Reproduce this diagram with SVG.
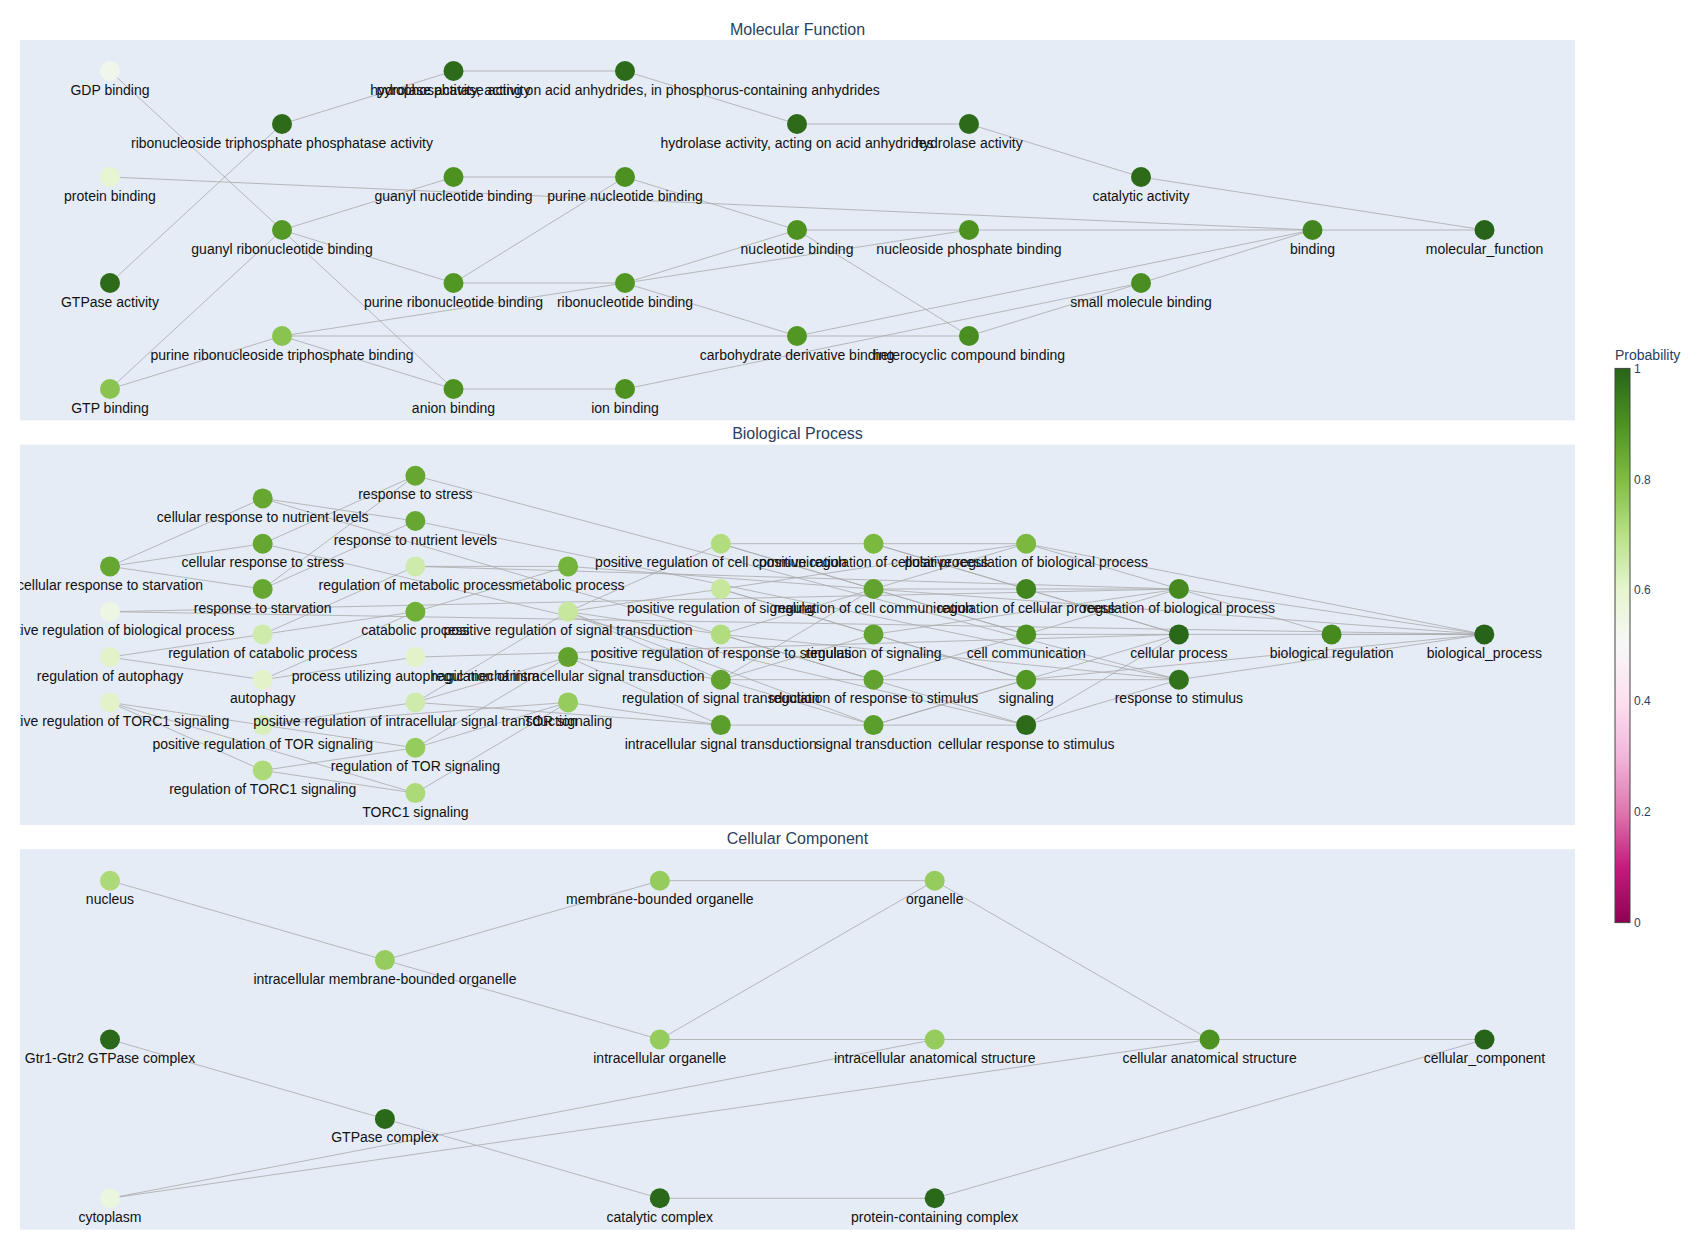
<svg xmlns="http://www.w3.org/2000/svg" width="1704" height="1250" viewBox="0 0 1704 1250">
<style>
.panel{fill:#E5ECF6}
.edges line{stroke:#a9a9a9;stroke-width:0.8;fill:none}
.node text{font-family:"Liberation Sans",Arial,sans-serif;font-size:14px;fill:#111;text-anchor:middle}
.title{font-family:"Liberation Sans",Arial,sans-serif;font-size:16px;fill:#2a3f5f;text-anchor:middle}
.tick{font-family:"Liberation Sans",Arial,sans-serif;font-size:12px;fill:#2a3f5f}
.cbtitle{font-family:"Liberation Sans",Arial,sans-serif;font-size:14px;fill:#2a3f5f}
</style>
<defs>
<clipPath id="clipMF"><rect x="20" y="40" width="1555" height="380.4"/></clipPath>
<clipPath id="clipBP"><rect x="20" y="444.6" width="1555" height="380.4"/></clipPath>
<clipPath id="clipCC"><rect x="20" y="849.2" width="1555" height="380.4"/></clipPath>
<linearGradient id="piyg" x1="0" y1="1" x2="0" y2="0">
<stop offset="0" stop-color="rgb(142,1,82)"/>
<stop offset="0.1" stop-color="rgb(197,27,125)"/>
<stop offset="0.2" stop-color="rgb(222,119,174)"/>
<stop offset="0.3" stop-color="rgb(241,182,218)"/>
<stop offset="0.4" stop-color="rgb(253,224,239)"/>
<stop offset="0.5" stop-color="rgb(247,247,247)"/>
<stop offset="0.6" stop-color="rgb(230,245,208)"/>
<stop offset="0.7" stop-color="rgb(184,225,134)"/>
<stop offset="0.8" stop-color="rgb(127,188,65)"/>
<stop offset="0.9" stop-color="rgb(77,146,33)"/>
<stop offset="1" stop-color="rgb(39,100,25)"/>
</linearGradient>
</defs>
<rect width="1704" height="1250" fill="#ffffff"/>
<rect class="panel" x="20" y="40" width="1555" height="380.4"/>
<rect class="panel" x="20" y="444.6" width="1555" height="380.4"/>
<rect class="panel" x="20" y="849.2" width="1555" height="380.4"/>
<text class="title" x="797.5" y="34.5">Molecular Function</text>
<text class="title" x="797.5" y="439">Biological Process</text>
<text class="title" x="797.5" y="843.5">Cellular Component</text>

<g id="connectors" class="edges">
<g id="mf-edges" clip-path="url(#clipMF)">
<line x1="110" y1="71" x2="282" y2="230"/>
<line x1="282" y1="230" x2="453.5" y2="389"/>
<line x1="453.5" y1="71" x2="625" y2="71"/>
<line x1="282" y1="124" x2="453.5" y2="71"/>
<line x1="625" y1="71" x2="797" y2="124"/>
<line x1="797" y1="124" x2="969" y2="124"/>
<line x1="969" y1="124" x2="1141" y2="177"/>
<line x1="1141" y1="177" x2="1484.5" y2="230"/>
<line x1="110" y1="283" x2="282" y2="124"/>
<line x1="110" y1="177" x2="1312.5" y2="230"/>
<line x1="453.5" y1="177" x2="625" y2="177"/>
<line x1="282" y1="230" x2="453.5" y2="177"/>
<line x1="282" y1="230" x2="453.5" y2="283"/>
<line x1="110" y1="389" x2="282" y2="230"/>
<line x1="110" y1="389" x2="282" y2="336"/>
<line x1="282" y1="336" x2="453.5" y2="389"/>
<line x1="282" y1="336" x2="625" y2="283"/>
<line x1="282" y1="336" x2="797" y2="336"/>
<line x1="797" y1="336" x2="969" y2="336"/>
<line x1="453.5" y1="283" x2="625" y2="283"/>
<line x1="453.5" y1="283" x2="625" y2="177"/>
<line x1="625" y1="177" x2="797" y2="230"/>
<line x1="797" y1="230" x2="969" y2="230"/>
<line x1="969" y1="230" x2="1312.5" y2="230"/>
<line x1="625" y1="283" x2="797" y2="230"/>
<line x1="625" y1="283" x2="969" y2="230"/>
<line x1="625" y1="283" x2="797" y2="336"/>
<line x1="797" y1="230" x2="969" y2="336"/>
<line x1="797" y1="336" x2="1312.5" y2="230"/>
<line x1="625" y1="389" x2="1141" y2="283"/>
<line x1="969" y1="336" x2="1141" y2="283"/>
<line x1="1141" y1="283" x2="1312.5" y2="230"/>
<line x1="1312.5" y1="230" x2="1484.5" y2="230"/>
<line x1="453.5" y1="389" x2="625" y2="389"/>
</g>
<g id="bp-edges" clip-path="url(#clipBP)">
<line x1="110" y1="566.4" x2="262.7" y2="498.4"/>
<line x1="110" y1="566.4" x2="262.7" y2="543.7"/>
<line x1="110" y1="566.4" x2="262.7" y2="589"/>
<line x1="262.7" y1="589" x2="415.4" y2="521"/>
<line x1="262.7" y1="589" x2="415.4" y2="475.7"/>
<line x1="262.7" y1="498.4" x2="415.4" y2="521"/>
<line x1="262.7" y1="498.4" x2="1026.2" y2="725.1"/>
<line x1="262.7" y1="543.7" x2="415.4" y2="475.7"/>
<line x1="262.7" y1="543.7" x2="1026.2" y2="725.1"/>
<line x1="415.4" y1="475.7" x2="1178.9" y2="679.7"/>
<line x1="415.4" y1="521" x2="1178.9" y2="679.7"/>
<line x1="110" y1="611.7" x2="1178.9" y2="589"/>
<line x1="110" y1="611.7" x2="1484.3" y2="634.4"/>
<line x1="110" y1="657.1" x2="262.7" y2="634.4"/>
<line x1="110" y1="657.1" x2="262.7" y2="679.7"/>
<line x1="262.7" y1="634.4" x2="415.4" y2="566.4"/>
<line x1="262.7" y1="634.4" x2="415.4" y2="611.7"/>
<line x1="262.7" y1="679.7" x2="415.4" y2="611.7"/>
<line x1="262.7" y1="679.7" x2="415.4" y2="657.1"/>
<line x1="415.4" y1="566.4" x2="568.1" y2="566.4"/>
<line x1="415.4" y1="566.4" x2="1178.9" y2="589"/>
<line x1="415.4" y1="611.7" x2="568.1" y2="566.4"/>
<line x1="568.1" y1="566.4" x2="1484.3" y2="634.4"/>
<line x1="415.4" y1="657.1" x2="1178.9" y2="634.4"/>
<line x1="110" y1="702.4" x2="262.7" y2="770.4"/>
<line x1="110" y1="702.4" x2="262.7" y2="725.1"/>
<line x1="110" y1="702.4" x2="415.4" y2="793.1"/>
<line x1="262.7" y1="725.1" x2="415.4" y2="747.8"/>
<line x1="262.7" y1="725.1" x2="415.4" y2="702.4"/>
<line x1="262.7" y1="725.1" x2="568.1" y2="702.4"/>
<line x1="262.7" y1="770.4" x2="415.4" y2="747.8"/>
<line x1="262.7" y1="770.4" x2="415.4" y2="793.1"/>
<line x1="415.4" y1="793.1" x2="568.1" y2="702.4"/>
<line x1="415.4" y1="747.8" x2="568.1" y2="657.1"/>
<line x1="415.4" y1="747.8" x2="568.1" y2="702.4"/>
<line x1="415.4" y1="702.4" x2="568.1" y2="657.1"/>
<line x1="415.4" y1="702.4" x2="568.1" y2="611.7"/>
<line x1="415.4" y1="702.4" x2="720.8" y2="725.1"/>
<line x1="568.1" y1="657.1" x2="720.8" y2="679.7"/>
<line x1="568.1" y1="657.1" x2="720.8" y2="725.1"/>
<line x1="568.1" y1="702.4" x2="720.8" y2="725.1"/>
<line x1="568.1" y1="611.7" x2="720.8" y2="679.7"/>
<line x1="568.1" y1="611.7" x2="720.8" y2="589"/>
<line x1="568.1" y1="611.7" x2="720.8" y2="543.7"/>
<line x1="568.1" y1="611.7" x2="720.8" y2="634.4"/>
<line x1="568.1" y1="611.7" x2="873.5" y2="725.1"/>
<line x1="720.8" y1="543.7" x2="873.5" y2="589"/>
<line x1="720.8" y1="543.7" x2="873.5" y2="543.7"/>
<line x1="720.8" y1="543.7" x2="1026.2" y2="634.4"/>
<line x1="720.8" y1="589" x2="873.5" y2="634.4"/>
<line x1="720.8" y1="589" x2="1026.2" y2="543.7"/>
<line x1="720.8" y1="589" x2="1026.2" y2="679.7"/>
<line x1="720.8" y1="634.4" x2="873.5" y2="679.7"/>
<line x1="720.8" y1="634.4" x2="1026.2" y2="543.7"/>
<line x1="720.8" y1="634.4" x2="1178.9" y2="679.7"/>
<line x1="720.8" y1="679.7" x2="873.5" y2="634.4"/>
<line x1="720.8" y1="679.7" x2="873.5" y2="679.7"/>
<line x1="720.8" y1="679.7" x2="873.5" y2="589"/>
<line x1="720.8" y1="679.7" x2="873.5" y2="725.1"/>
<line x1="720.8" y1="725.1" x2="873.5" y2="725.1"/>
<line x1="873.5" y1="543.7" x2="1026.2" y2="589"/>
<line x1="873.5" y1="543.7" x2="1026.2" y2="543.7"/>
<line x1="873.5" y1="543.7" x2="1178.9" y2="634.4"/>
<line x1="873.5" y1="589" x2="1026.2" y2="589"/>
<line x1="873.5" y1="589" x2="1026.2" y2="634.4"/>
<line x1="873.5" y1="634.4" x2="1178.9" y2="589"/>
<line x1="873.5" y1="634.4" x2="1026.2" y2="679.7"/>
<line x1="873.5" y1="679.7" x2="1178.9" y2="589"/>
<line x1="873.5" y1="679.7" x2="1178.9" y2="679.7"/>
<line x1="873.5" y1="725.1" x2="1178.9" y2="634.4"/>
<line x1="873.5" y1="725.1" x2="1026.2" y2="679.7"/>
<line x1="873.5" y1="725.1" x2="1026.2" y2="725.1"/>
<line x1="1026.2" y1="543.7" x2="1178.9" y2="589"/>
<line x1="1026.2" y1="543.7" x2="1484.3" y2="634.4"/>
<line x1="1026.2" y1="589" x2="1178.9" y2="589"/>
<line x1="1026.2" y1="589" x2="1178.9" y2="634.4"/>
<line x1="1026.2" y1="634.4" x2="1178.9" y2="634.4"/>
<line x1="1026.2" y1="679.7" x2="1484.3" y2="634.4"/>
<line x1="1026.2" y1="725.1" x2="1178.9" y2="679.7"/>
<line x1="1026.2" y1="725.1" x2="1178.9" y2="634.4"/>
<line x1="1178.9" y1="679.7" x2="1484.3" y2="634.4"/>
<line x1="1178.9" y1="634.4" x2="1484.3" y2="634.4"/>
<line x1="1178.9" y1="589" x2="1331.6" y2="634.4"/>
<line x1="1178.9" y1="589" x2="1484.3" y2="634.4"/>
<line x1="1331.6" y1="634.4" x2="1484.3" y2="634.4"/>
</g>
<g id="cc-edges" clip-path="url(#clipCC)">
<line x1="110" y1="880.7" x2="384.9" y2="960.1"/>
<line x1="384.9" y1="960.1" x2="659.8" y2="880.7"/>
<line x1="384.9" y1="960.1" x2="659.8" y2="1039.5"/>
<line x1="659.8" y1="880.7" x2="934.7" y2="880.7"/>
<line x1="659.8" y1="1039.5" x2="934.7" y2="880.7"/>
<line x1="659.8" y1="1039.5" x2="934.7" y2="1039.5"/>
<line x1="934.7" y1="1039.5" x2="1209.6" y2="1039.5"/>
<line x1="934.7" y1="880.7" x2="1209.6" y2="1039.5"/>
<line x1="1209.6" y1="1039.5" x2="1484.5" y2="1039.5"/>
<line x1="110" y1="1198.3" x2="934.7" y2="1039.5"/>
<line x1="110" y1="1198.3" x2="1209.6" y2="1039.5"/>
<line x1="110" y1="1039.5" x2="384.9" y2="1118.9"/>
<line x1="384.9" y1="1118.9" x2="659.8" y2="1198.3"/>
<line x1="659.8" y1="1198.3" x2="934.7" y2="1198.3"/>
<line x1="934.7" y1="1198.3" x2="1484.5" y2="1039.5"/>
</g>
</g>

<g id="mf-nodes" clip-path="url(#clipMF)">
<g id="n-gtp-binding" class="node"><circle cx="110" cy="389" r="10" fill="rgb(138,195,79)"/><text x="110" y="412.5">GTP binding</text></g>
<g id="n-anion-binding" class="node"><circle cx="453.5" cy="389" r="10" fill="rgb(77,146,33)"/><text x="453.5" y="412.5">anion binding</text></g>
<g id="n-ion-binding" class="node"><circle cx="625" cy="389" r="10" fill="rgb(77,146,33)"/><text x="625" y="412.5">ion binding</text></g>
<g id="n-purine-ribonucleoside-tp-binding" class="node"><circle cx="282" cy="336" r="10" fill="rgb(138,195,79)"/><text x="282" y="359.5">purine ribonucleoside triphosphate binding</text></g>
<g id="n-carbohydrate-derivative-binding" class="node"><circle cx="797" cy="336" r="10" fill="rgb(82,150,36)"/><text x="797" y="359.5">carbohydrate derivative binding</text></g>
<g id="n-heterocyclic-compound-binding" class="node"><circle cx="969" cy="336" r="10" fill="rgb(74,141,32)"/><text x="969" y="359.5">heterocyclic compound binding</text></g>
<g id="n-gtpase-activity" class="node"><circle cx="110" cy="283" r="10" fill="rgb(45,106,26)"/><text x="110" y="306.5">GTPase activity</text></g>
<g id="n-purine-ribonucleotide-binding" class="node"><circle cx="453.5" cy="283" r="10" fill="rgb(82,150,36)"/><text x="453.5" y="306.5">purine ribonucleotide binding</text></g>
<g id="n-ribonucleotide-binding" class="node"><circle cx="625" cy="283" r="10" fill="rgb(82,150,36)"/><text x="625" y="306.5">ribonucleotide binding</text></g>
<g id="n-small-molecule-binding" class="node"><circle cx="1141" cy="283" r="10" fill="rgb(74,141,32)"/><text x="1141" y="306.5">small molecule binding</text></g>
<g id="n-guanyl-ribonucleotide-binding" class="node"><circle cx="282" cy="230" r="10" fill="rgb(84,152,38)"/><text x="282" y="253.5">guanyl ribonucleotide binding</text></g>
<g id="n-nucleotide-binding" class="node"><circle cx="797" cy="230" r="10" fill="rgb(77,146,33)"/><text x="797" y="253.5">nucleotide binding</text></g>
<g id="n-nucleoside-phosphate-binding" class="node"><circle cx="969" cy="230" r="10" fill="rgb(77,146,33)"/><text x="969" y="253.5">nucleoside phosphate binding</text></g>
<g id="n-binding" class="node"><circle cx="1312.5" cy="230" r="10" fill="rgb(66,132,30)"/><text x="1312.5" y="253.5">binding</text></g>
<g id="n-molecular-function" class="node"><circle cx="1484.5" cy="230" r="10" fill="rgb(39,100,25)"/><text x="1484.5" y="253.5">molecular_function</text></g>
<g id="n-protein-binding" class="node"><circle cx="110" cy="177" r="10" fill="rgb(230,245,210)"/><text x="110" y="200.5">protein binding</text></g>
<g id="n-guanyl-nucleotide-binding" class="node"><circle cx="453.5" cy="177" r="10" fill="rgb(77,146,33)"/><text x="453.5" y="200.5">guanyl nucleotide binding</text></g>
<g id="n-purine-nucleotide-binding" class="node"><circle cx="625" cy="177" r="10" fill="rgb(77,146,33)"/><text x="625" y="200.5">purine nucleotide binding</text></g>
<g id="n-catalytic-activity" class="node"><circle cx="1141" cy="177" r="10" fill="rgb(45,106,26)"/><text x="1141" y="200.5">catalytic activity</text></g>
<g id="n-ribonucleoside-tp-phosphatase-activity" class="node"><circle cx="282" cy="124" r="10" fill="rgb(45,106,26)"/><text x="282" y="147.5">ribonucleoside triphosphate phosphatase activity</text></g>
<g id="n-hydrolase-acid-anhydrides" class="node"><circle cx="797" cy="124" r="10" fill="rgb(45,106,26)"/><text x="797" y="147.5">hydrolase activity, acting on acid anhydrides</text></g>
<g id="n-hydrolase-activity" class="node"><circle cx="969" cy="124" r="10" fill="rgb(45,106,26)"/><text x="969" y="147.5">hydrolase activity</text></g>
<g id="n-gdp-binding" class="node"><circle cx="110" cy="71" r="10" fill="rgb(240,246,234)"/><text x="110" y="94.5">GDP binding</text></g>
<g id="n-pyrophosphatase-activity" class="node"><circle cx="453.5" cy="71" r="10" fill="rgb(45,106,26)"/><text x="453.5" y="94.5">pyrophosphatase activity</text></g>
<g id="n-hydrolase-phosphorus-anhydrides" class="node"><circle cx="625" cy="71" r="10" fill="rgb(45,106,26)"/><text x="625" y="94.5">hydrolase activity, acting on acid anhydrides, in phosphorus-containing anhydrides</text></g>
</g>

<g id="bp-nodes" clip-path="url(#clipBP)">
<g id="n-torc1-signaling" class="node"><circle cx="415.4" cy="793.1" r="10" fill="rgb(173,218,120)"/><text x="415.4" y="816.6">TORC1 signaling</text></g>
<g id="n-regulation-of-torc1-signaling" class="node"><circle cx="262.7" cy="770.4" r="10" fill="rgb(173,218,120)"/><text x="262.7" y="793.9">regulation of TORC1 signaling</text></g>
<g id="n-regulation-of-tor-signaling" class="node"><circle cx="415.4" cy="747.8" r="10" fill="rgb(150,203,93)"/><text x="415.4" y="771.3">regulation of TOR signaling</text></g>
<g id="n-positive-regulation-of-tor-signaling" class="node"><circle cx="262.7" cy="725.1" r="10" fill="rgb(216,239,185)"/><text x="262.7" y="748.6">positive regulation of TOR signaling</text></g>
<g id="n-intracellular-signal-transduction" class="node"><circle cx="720.8" cy="725.1" r="10" fill="rgb(92,158,43)"/><text x="720.8" y="748.6">intracellular signal transduction</text></g>
<g id="n-signal-transduction" class="node"><circle cx="873.5" cy="725.1" r="10" fill="rgb(92,158,43)"/><text x="873.5" y="748.6">signal transduction</text></g>
<g id="n-cellular-response-to-stimulus" class="node"><circle cx="1026.2" cy="725.1" r="10" fill="rgb(45,106,26)"/><text x="1026.2" y="748.6">cellular response to stimulus</text></g>
<g id="n-positive-regulation-of-torc1-signaling" class="node"><circle cx="110" cy="702.4" r="10" fill="rgb(226,243,201)"/><text x="110" y="725.9">positive regulation of TORC1 signaling</text></g>
<g id="n-positive-regulation-of-intracellular-signal-transduction" class="node"><circle cx="415.4" cy="702.4" r="10" fill="rgb(207,235,171)"/><text x="415.4" y="725.9">positive regulation of intracellular signal transduction</text></g>
<g id="n-tor-signaling" class="node"><circle cx="568.1" cy="702.4" r="10" fill="rgb(150,203,93)"/><text x="568.1" y="725.9">TOR signaling</text></g>
<g id="n-autophagy" class="node"><circle cx="262.7" cy="679.7" r="10" fill="rgb(226,243,201)"/><text x="262.7" y="703.2">autophagy</text></g>
<g id="n-regulation-of-signal-transduction" class="node"><circle cx="720.8" cy="679.7" r="10" fill="rgb(97,163,46)"/><text x="720.8" y="703.2">regulation of signal transduction</text></g>
<g id="n-regulation-of-response-to-stimulus" class="node"><circle cx="873.5" cy="679.7" r="10" fill="rgb(97,163,46)"/><text x="873.5" y="703.2">regulation of response to stimulus</text></g>
<g id="n-signaling" class="node"><circle cx="1026.2" cy="679.7" r="10" fill="rgb(82,150,36)"/><text x="1026.2" y="703.2">signaling</text></g>
<g id="n-response-to-stimulus" class="node"><circle cx="1178.9" cy="679.7" r="10" fill="rgb(50,114,27)"/><text x="1178.9" y="703.2">response to stimulus</text></g>
<g id="n-regulation-of-autophagy" class="node"><circle cx="110" cy="657.1" r="10" fill="rgb(226,243,201)"/><text x="110" y="680.6">regulation of autophagy</text></g>
<g id="n-process-utilizing-autophagic-mechanism" class="node"><circle cx="415.4" cy="657.1" r="10" fill="rgb(226,243,201)"/><text x="415.4" y="680.6">process utilizing autophagic mechanism</text></g>
<g id="n-regulation-of-intracellular-signal-transduction" class="node"><circle cx="568.1" cy="657.1" r="10" fill="rgb(97,163,46)"/><text x="568.1" y="680.6">regulation of intracellular signal transduction</text></g>
<g id="n-regulation-of-catabolic-process" class="node"><circle cx="262.7" cy="634.4" r="10" fill="rgb(207,235,171)"/><text x="262.7" y="657.9">regulation of catabolic process</text></g>
<g id="n-positive-regulation-of-response-to-stimulus" class="node"><circle cx="720.8" cy="634.4" r="10" fill="rgb(178,221,127)"/><text x="720.8" y="657.9">positive regulation of response to stimulus</text></g>
<g id="n-regulation-of-signaling" class="node"><circle cx="873.5" cy="634.4" r="10" fill="rgb(97,163,46)"/><text x="873.5" y="657.9">regulation of signaling</text></g>
<g id="n-cell-communication" class="node"><circle cx="1026.2" cy="634.4" r="10" fill="rgb(77,146,33)"/><text x="1026.2" y="657.9">cell communication</text></g>
<g id="n-cellular-process" class="node"><circle cx="1178.9" cy="634.4" r="10" fill="rgb(42,104,26)"/><text x="1178.9" y="657.9">cellular process</text></g>
<g id="n-biological-regulation" class="node"><circle cx="1331.6" cy="634.4" r="10" fill="rgb(69,137,31)"/><text x="1331.6" y="657.9">biological regulation</text></g>
<g id="n-biological-process" class="node"><circle cx="1484.3" cy="634.4" r="10" fill="rgb(39,100,25)"/><text x="1484.3" y="657.9">biological_process</text></g>
<g id="n-negative-regulation-of-biological-process" class="node"><circle cx="110" cy="611.7" r="10" fill="rgb(237,246,226)"/><text x="110" y="635.2">negative regulation of biological process</text></g>
<g id="n-catabolic-process" class="node"><circle cx="415.4" cy="611.7" r="10" fill="rgb(112,176,55)"/><text x="415.4" y="635.2">catabolic process</text></g>
<g id="n-positive-regulation-of-signal-transduction" class="node"><circle cx="568.1" cy="611.7" r="10" fill="rgb(198,231,156)"/><text x="568.1" y="635.2">positive regulation of signal transduction</text></g>
<g id="n-response-to-starvation" class="node"><circle cx="262.7" cy="589" r="10" fill="rgb(102,167,49)"/><text x="262.7" y="612.5">response to starvation</text></g>
<g id="n-positive-regulation-of-signaling" class="node"><circle cx="720.8" cy="589" r="10" fill="rgb(198,231,156)"/><text x="720.8" y="612.5">positive regulation of signaling</text></g>
<g id="n-regulation-of-cell-communication" class="node"><circle cx="873.5" cy="589" r="10" fill="rgb(97,163,46)"/><text x="873.5" y="612.5">regulation of cell communication</text></g>
<g id="n-regulation-of-cellular-process" class="node"><circle cx="1026.2" cy="589" r="10" fill="rgb(66,132,30)"/><text x="1026.2" y="612.5">regulation of cellular process</text></g>
<g id="n-regulation-of-biological-process" class="node"><circle cx="1178.9" cy="589" r="10" fill="rgb(69,137,31)"/><text x="1178.9" y="612.5">regulation of biological process</text></g>
<g id="n-cellular-response-to-starvation" class="node"><circle cx="110" cy="566.4" r="10" fill="rgb(102,167,49)"/><text x="110" y="589.9">cellular response to starvation</text></g>
<g id="n-regulation-of-metabolic-process" class="node"><circle cx="415.4" cy="566.4" r="10" fill="rgb(207,235,171)"/><text x="415.4" y="589.9">regulation of metabolic process</text></g>
<g id="n-metabolic-process" class="node"><circle cx="568.1" cy="566.4" r="10" fill="rgb(117,180,59)"/><text x="568.1" y="589.9">metabolic process</text></g>
<g id="n-cellular-response-to-stress" class="node"><circle cx="262.7" cy="543.7" r="10" fill="rgb(102,167,49)"/><text x="262.7" y="567.2">cellular response to stress</text></g>
<g id="n-positive-regulation-of-cell-communication" class="node"><circle cx="720.8" cy="543.7" r="10" fill="rgb(178,221,127)"/><text x="720.8" y="567.2">positive regulation of cell communication</text></g>
<g id="n-positive-regulation-of-cellular-process" class="node"><circle cx="873.5" cy="543.7" r="10" fill="rgb(122,184,62)"/><text x="873.5" y="567.2">positive regulation of cellular process</text></g>
<g id="n-positive-regulation-of-biological-process" class="node"><circle cx="1026.2" cy="543.7" r="10" fill="rgb(122,184,62)"/><text x="1026.2" y="567.2">positive regulation of biological process</text></g>
<g id="n-response-to-nutrient-levels" class="node"><circle cx="415.4" cy="521" r="10" fill="rgb(102,167,49)"/><text x="415.4" y="544.5">response to nutrient levels</text></g>
<g id="n-cellular-response-to-nutrient-levels" class="node"><circle cx="262.7" cy="498.4" r="10" fill="rgb(102,167,49)"/><text x="262.7" y="521.9">cellular response to nutrient levels</text></g>
<g id="n-response-to-stress" class="node"><circle cx="415.4" cy="475.7" r="10" fill="rgb(102,167,49)"/><text x="415.4" y="499.2">response to stress</text></g>
</g>

<g id="cc-nodes" clip-path="url(#clipCC)">
<g id="n-cytoplasm" class="node"><circle cx="110" cy="1198.3" r="10" fill="rgb(235,246,222)"/><text x="110" y="1221.8">cytoplasm</text></g>
<g id="n-catalytic-complex" class="node"><circle cx="659.8" cy="1198.3" r="10" fill="rgb(42,104,26)"/><text x="659.8" y="1221.8">catalytic complex</text></g>
<g id="n-protein-containing-complex" class="node"><circle cx="934.7" cy="1198.3" r="10" fill="rgb(42,104,26)"/><text x="934.7" y="1221.8">protein-containing complex</text></g>
<g id="n-gtpase-complex" class="node"><circle cx="384.9" cy="1118.9" r="10" fill="rgb(42,104,26)"/><text x="384.9" y="1142.4">GTPase complex</text></g>
<g id="n-gtr1-gtr2-gtpase-complex" class="node"><circle cx="110" cy="1039.5" r="10" fill="rgb(42,104,26)"/><text x="110" y="1063">Gtr1-Gtr2 GTPase complex</text></g>
<g id="n-intracellular-organelle" class="node"><circle cx="659.8" cy="1039.5" r="10" fill="rgb(150,203,93)"/><text x="659.8" y="1063">intracellular organelle</text></g>
<g id="n-intracellular-anatomical-structure" class="node"><circle cx="934.7" cy="1039.5" r="10" fill="rgb(150,203,93)"/><text x="934.7" y="1063">intracellular anatomical structure</text></g>
<g id="n-cellular-anatomical-structure" class="node"><circle cx="1209.6" cy="1039.5" r="10" fill="rgb(77,146,33)"/><text x="1209.6" y="1063">cellular anatomical structure</text></g>
<g id="n-cellular-component" class="node"><circle cx="1484.5" cy="1039.5" r="10" fill="rgb(39,100,25)"/><text x="1484.5" y="1063">cellular_component</text></g>
<g id="n-intracellular-membrane-bounded-organelle" class="node"><circle cx="384.9" cy="960.1" r="10" fill="rgb(150,203,93)"/><text x="384.9" y="983.6">intracellular membrane-bounded organelle</text></g>
<g id="n-nucleus" class="node"><circle cx="110" cy="880.7" r="10" fill="rgb(173,218,120)"/><text x="110" y="904.2">nucleus</text></g>
<g id="n-membrane-bounded-organelle" class="node"><circle cx="659.8" cy="880.7" r="10" fill="rgb(150,203,93)"/><text x="659.8" y="904.2">membrane-bounded organelle</text></g>
<g id="n-organelle" class="node"><circle cx="934.7" cy="880.7" r="10" fill="rgb(150,203,93)"/><text x="934.7" y="904.2">organelle</text></g>
</g>

<g id="colorbar">
<text class="cbtitle" x="1615" y="360">Probability</text>
<rect x="1615" y="368.4" width="15" height="554.2" fill="url(#piyg)" stroke="#444" stroke-width="1"/>
<text class="tick" x="1634" y="372.7">1</text>
<text class="tick" x="1634" y="483.5">0.8</text>
<text class="tick" x="1634" y="594.4">0.6</text>
<text class="tick" x="1634" y="705.2">0.4</text>
<text class="tick" x="1634" y="816.1">0.2</text>
<text class="tick" x="1634" y="926.9">0</text>
</g>
</svg>
